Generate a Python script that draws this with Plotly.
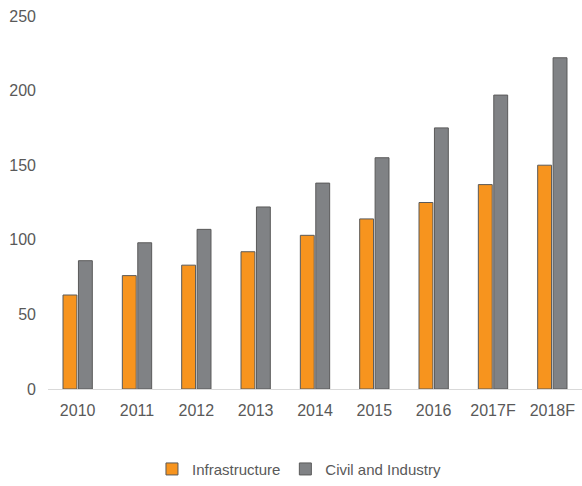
import plotly.graph_objects as go

years = ["2010", "2011", "2012", "2013", "2014", "2015", "2016", "2017F", "2018F"]
infrastructure = [63, 76, 83, 92, 103, 114, 125, 137, 150]
civil_industry = [86, 98, 107, 122, 138, 155, 175, 197, 222]
y_ticks = [0, 50, 100, 150, 200, 250]

font = "Liberation Sans, Arial, sans-serif"
fig = go.Figure()
fig.add_trace(go.Bar(x=years, y=infrastructure, name="Infrastructure",
                     marker=dict(color="#F7941E", line=dict(color="#5a5a5a", width=1))))
fig.add_trace(go.Bar(x=years, y=civil_industry, name="Civil and Industry",
                     marker=dict(color="#808285", line=dict(color="#5a5a5a", width=1))))

fig.update_layout(
    width=582, height=486,
    margin=dict(l=48, r=0, t=16, b=87),
    plot_bgcolor="white", paper_bgcolor="white",
    barmode="group", bargap=0.48, bargroupgap=0.1,
    font=dict(family=font, size=16, color="#595959"),
    xaxis=dict(showgrid=False, showline=True, linecolor="#d9d9d9", linewidth=1,
               ticks="", ticklabelstandoff=7, tickfont=dict(size=16, color="#595959")),
    yaxis=dict(range=[0, 250], tickvals=y_ticks, showgrid=False, zeroline=False,
               showline=False, ticks="", ticklabelstandoff=11,
               tickfont=dict(size=16, color="#595959")),
    legend=dict(orientation="h", x=0.47, xanchor="center", y=-0.215, yanchor="middle",
                font=dict(size=15, color="#595959"), itemwidth=30,
                traceorder="normal"),
    showlegend=True,
)
fig.write_html(
    "out.html",
    config={"displayModeBar": False},
    post_script="document.body.style.margin='0';document.documentElement.style.overflow='hidden';",
)
